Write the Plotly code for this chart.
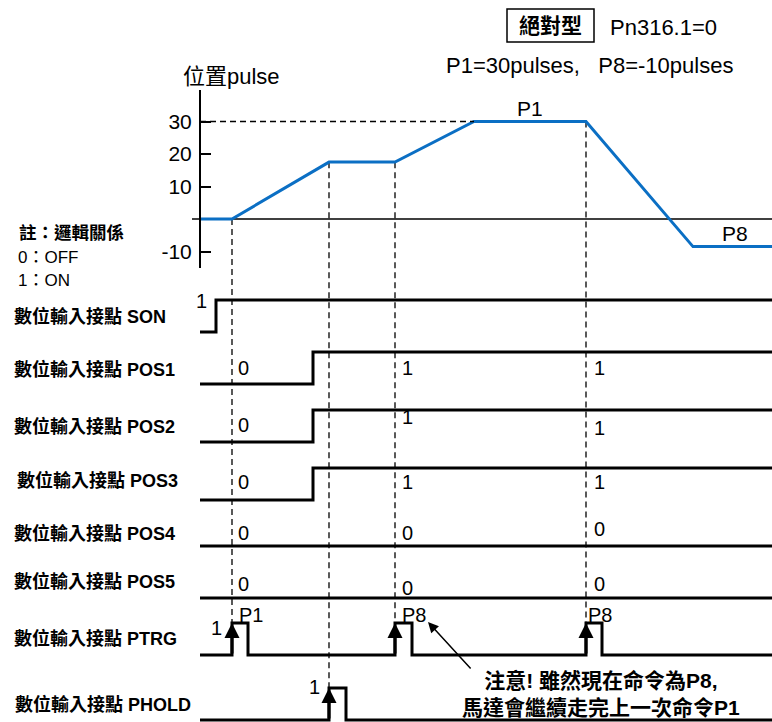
import plotly.graph_objects as go

W, H = 772, 722
FONT = "Liberation Sans, Arial, 'Noto Sans CJK TC', sans-serif"
BLUE = "#0B6FC4"

# ---------------- data ----------------
# position profile (time units, pulses)
pos_t = [0, 32, 129, 195, 274, 386, 493, 572]
pos_v = [0, 0, 17.5, 17.5, 30, 30, -8.5, -8.5]
pos_ticks = [30, 20, 10, -10]
P1_VAL = 30

# digital inputs: times and logic levels
son_t = [0, 16, 572];                  son_v = [0, 1, 1]
pos1_t = [0, 113, 572];                pos1_v = [0, 1, 1]
pos2_t = [0, 113, 572];                pos2_v = [0, 1, 1]
pos3_t = [0, 113, 572];                pos3_v = [0, 1, 1]
pos4_t = [0, 572];                     pos4_v = [0, 0]
pos5_t = [0, 572];                     pos5_v = [0, 0]
ptrg_t = [0, 32, 48, 195, 212, 386, 402, 572]; ptrg_v = [0, 1, 0, 1, 0, 1, 0, 0]
phold_t = [0, 129, 146, 572];          phold_v = [0, 1, 0, 0]

lane_names = ["SON", "POS1", "POS2", "POS3", "POS4", "POS5", "PTRG", "PHOLD"]
lane_t = [son_t, pos1_t, pos2_t, pos3_t, pos4_t, pos5_t, ptrg_t, phold_t]
lane_v = [son_v, pos1_v, pos2_v, pos3_v, pos4_v, pos5_v, ptrg_v, phold_v]

# ---------------- layout geometry ----------------
X0_PX = 200                       # time 0 pixel
X_RANGE = [-X0_PX, W - X0_PX]
POS_ZERO_PX, POS_PPU = 219, 3.25  # position axis scale
POS_DOM_PX = (90, 268)
LANE_LOW_PX = [332, 384, 442, 500, 546, 598, 655, 720]
SWING = 32
DASH = dict(color="black", width=1.3, dash="6px,4px")

def xp(t):
    return (t - X_RANGE[0]) / (X_RANGE[1] - X_RANGE[0])

pos_dom = [1 - POS_DOM_PX[1] / H, 1 - POS_DOM_PX[0] / H]
pos_rng = [(POS_ZERO_PX - POS_DOM_PX[1]) / POS_PPU, (POS_ZERO_PX - POS_DOM_PX[0]) / POS_PPU]

def pos_paper(v):
    return pos_dom[0] + (v - pos_rng[0]) / (pos_rng[1] - pos_rng[0]) * (pos_dom[1] - pos_dom[0])

lane_rng = [[(L - H) / SWING, L / SWING] for L in LANE_LOW_PX]

def lane_paper(i, v):
    r = lane_rng[i]
    return (v - r[0]) / (r[1] - r[0])

fig = go.Figure()

# position curve
fig.add_trace(go.Scatter(x=pos_t, y=pos_v, mode="lines", xaxis="x", yaxis="y",
                         line=dict(color=BLUE, width=3), hoverinfo="skip"))

# digital lanes
for i, (tt, vv) in enumerate(zip(lane_t, lane_v)):
    fig.add_trace(go.Scatter(x=tt, y=vv, mode="lines", xaxis="x", yaxis=f"y{i+2}",
                             line=dict(color="black", width=3, shape="hv"), hoverinfo="skip"))

layout = dict(
    width=W, height=H, margin=dict(l=0, r=0, t=0, b=0),
    paper_bgcolor="white", plot_bgcolor="rgba(0,0,0,0)", showlegend=False,
    font=dict(family=FONT, color="black", size=18),
    xaxis=dict(range=X_RANGE, domain=[0, 1], visible=False, fixedrange=True),
    yaxis=dict(domain=pos_dom, range=pos_rng, anchor="free", position=xp(0),
               showline=True, linecolor="black", linewidth=2, ticks="inside", ticklen=10,
               tickwidth=1.5, tickcolor="black", tickvals=pos_ticks,
               ticktext=[str(v) for v in pos_ticks], tickfont=dict(size=21),
               showgrid=False, zeroline=False, ticklabelstandoff=3),
)
for i in range(len(lane_names)):
    layout[f"yaxis{i+2}"] = dict(domain=[0, 1], range=lane_rng[i], anchor="x", visible=False)
fig.update_layout(**layout)

shapes = []
# zero line
shapes.append(dict(type="line", xref="paper", yref="y", x0=xp(-8), x1=1, y0=0, y1=0,
                   line=dict(color="black", width=1.5), layer="below"))
# dashed P1 level
shapes.append(dict(type="line", xref="x", yref="y", x0=0, x1=pos_t[4], y0=P1_VAL, y1=P1_VAL,
                   line=DASH))
# dashed event guides: (index into position profile, lane index)
guides = [(1, 6), (2, 7), (3, 6), (5, 6)]
for pi, li in guides:
    shapes.append(dict(type="line", xref="x", yref="paper", x0=pos_t[pi], x1=pos_t[pi],
                       y0=pos_paper(pos_v[pi]), y1=lane_paper(li, 1),
                       line=DASH, layer="below"))
# box around 絕對型
shapes.append(dict(type="rect", xref="paper", yref="paper", x0=507 / W, x1=594 / W,
                   y0=1 - 42 / H, y1=1 - 9 / H, line=dict(color="black", width=1.5)))
fig.update_layout(shapes=shapes)

ann = []
def txt(text, x, y, xref="paper", yref="paper", size=18, xanchor="left", yanchor="middle", **kw):
    ann.append(dict(text=text, x=x, y=y, xref=xref, yref=yref, showarrow=False,
                    xanchor=xanchor, yanchor=yanchor, font=dict(size=size), **kw))

# top texts
txt("<b>絕對型</b>", 550 / W, 1 - 25 / H, size=21, xanchor="center")
txt("Pn316.1=0", 608 / W, 1 - 28 / H, size=22)
txt("P1=30pulses,\u00a0\u00a0\u00a0P8=-10pulses", 444 / W, 1 - 65 / H, size=22)
txt("位置pulse", 181 / W, 1 - 77 / H, size=22)
txt("P1", 330, P1_VAL, xref="x", yref="y", size=21, xanchor="center", yanchor="bottom")
txt("P8", 535, pos_v[-1], xref="x", yref="y", size=21, xanchor="center", yanchor="bottom")

# note
txt("<b>註：邏輯關係</b>", 17 / W, 1 - 233 / H, size=17.5)
txt("0：OFF", 16 / W, 1 - 258 / H, size=17)
txt("1：ON", 16 / W, 1 - 281 / H, size=17)

# lane labels
lane_label_lvl = [0.5, 0.44, 0.5, 0.6, 0.4, 0.53, 0.53, 0.47]
lane_label_x = [12, 12, 12, 15, 12, 12, 12, 13]
for i, name in enumerate(lane_names):
    txt(f"<b>數位輸入接點 {name}</b>", lane_label_x[i] / W, lane_label_lvl[i],
        yref=f"y{i+2}", size=18)

# level labels: (lane index, time, level, text, xshift, xanchor)
lvl_labels = [
    (0, 16, 0.98, "1", -7, "right"),
    (1, 32, 0.5, "0", 4, "left"), (1, 195, 0.5, "1", 5, "left"), (1, 386, 0.5, "1", 6, "left"),
    (2, 32, 0.53, "0", 4, "left"), (2, 195, 0.78, "1", 5, "left"), (2, 386, 0.44, "1", 6, "left"),
    (3, 32, 0.55, "0", 4, "left"), (3, 195, 0.55, "1", 5, "left"), (3, 386, 0.55, "1", 6, "left"),
    (4, 32, 0.4, "0", 4, "left"), (4, 195, 0.4, "0", 5, "left"), (4, 386, 0.53, "0", 6, "left"),
    (5, 32, 0.44, "0", 4, "left"), (5, 195, 0.31, "0", 5, "left"), (5, 386, 0.44, "0", 6, "left"),
    (6, 32, 0.85, "1", -8, "right"), (6, 32, 1.25, "P1", 5, "left"),
    (6, 195, 1.25, "P8", 5, "left"), (6, 386, 1.25, "P8", 0, "left"),
    (7, 129, 1.03, "1", -7, "right"),
]
for li, t, lv, s, xs, xa in lvl_labels:
    txt(s, t, lv, xref="x", yref=f"y{li+2}", size=20, xanchor=xa, xshift=xs)

# rising-edge arrows on PTRG and PHOLD
for li, tt, vv in [(6, ptrg_t, ptrg_v), (7, phold_t, phold_v)]:
    for k in range(1, len(tt)):
        if vv[k] == 1 and vv[k - 1] == 0:
            ann.append(dict(x=tt[k], y=1, ax=tt[k], ay=0, xref="x", yref=f"y{li+2}",
                            axref="x", ayref=f"y{li+2}", text="", showarrow=True,
                            arrowhead=2, arrowsize=1.0, arrowwidth=3, arrowcolor="black"))

# explanation arrow + text
ann.append(dict(x=228, y=1.03, ax=272, ay=-0.47, xref="x", yref="y8", axref="x", ayref="y8",
                text="", showarrow=True, arrowhead=2, arrowsize=1.4, arrowwidth=1.5,
                arrowcolor="black"))
txt("<b>注意! 雖然現在命令為P8,</b><br><b>馬達會繼續走完上一次命令P1</b>", 601 / W, 1 - 694 / H,
    size=21, xanchor="center", align="center")

fig.update_layout(annotations=ann)
fig.write_html("out.html", config={"displayModeBar": False},
               post_script="document.body.style.margin='0';document.body.style.overflow='hidden';")
